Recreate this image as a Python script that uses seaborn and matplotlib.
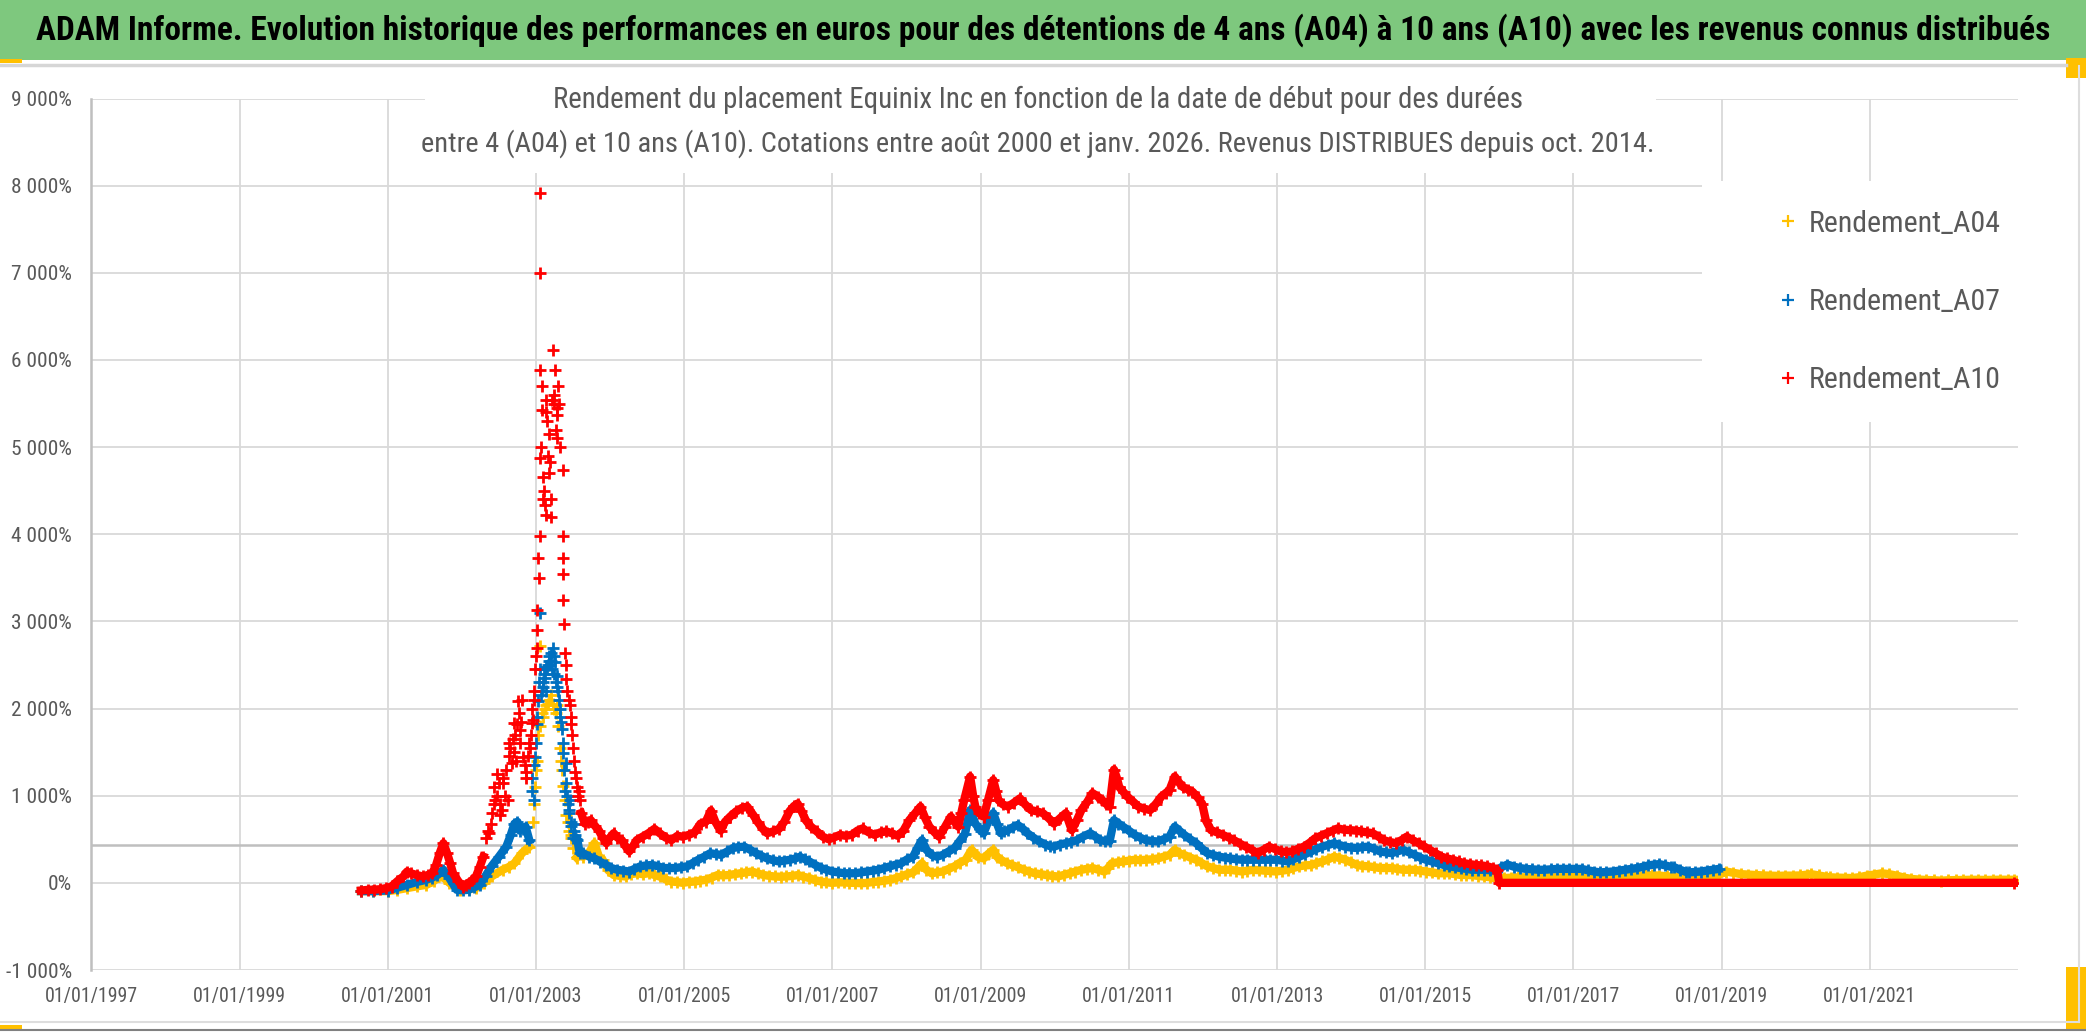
import numpy as np
import pandas as pd
import matplotlib
matplotlib.use('Agg')
import matplotlib.pyplot as plt
import matplotlib.dates as mdates
from matplotlib.ticker import FuncFormatter
from matplotlib.patches import Rectangle
from matplotlib.lines import Line2D
from matplotlib import font_manager
from matplotlib.font_manager import FontProperties
import seaborn as sns

# values: decimal year of start date, return in %
a04_year = [2000.64, 2000.80, 2001.00, 2001.13, 2001.26, 2001.39, 2001.52, 2001.62, 2001.72, 2001.83,
            2001.98, 2002.09, 2002.19, 2002.30, 2002.40, 2002.55, 2002.63, 2002.71, 2002.81, 2002.91,
            2002.97, 2003.01, 2003.06, 2003.10, 2003.14, 2003.18, 2003.21, 2003.25, 2003.28, 2003.32,
            2003.35, 2003.37, 2003.41, 2003.45, 2003.48, 2003.55, 2003.60, 2003.64, 2003.72, 2003.79,
            2003.85, 2003.90, 2003.97, 2004.05, 2004.13, 2004.21, 2004.29, 2004.36, 2004.44, 2004.52,
            2004.60, 2004.67, 2004.75, 2004.83, 2004.90, 2004.98, 2005.06, 2005.14, 2005.21, 2005.29,
            2005.37, 2005.45, 2005.52, 2005.60, 2005.68, 2005.76, 2005.83, 2005.91, 2005.99, 2006.07,
            2006.15, 2006.22, 2006.30, 2006.38, 2006.46, 2006.54, 2006.61, 2006.69, 2006.77, 2006.85,
            2006.92, 2007.00, 2007.08, 2007.16, 2007.23, 2007.31, 2007.39, 2007.47, 2007.55, 2007.62,
            2007.70, 2007.78, 2007.86, 2007.93, 2008.01, 2008.09, 2008.15, 2008.21, 2008.27, 2008.34,
            2008.41, 2008.49, 2008.57, 2008.65, 2008.72, 2008.80, 2008.88, 2008.96, 2009.04, 2009.10,
            2009.17, 2009.22, 2009.27, 2009.35, 2009.42, 2009.50, 2009.58, 2009.65, 2009.73, 2009.81,
            2009.89, 2009.96, 2010.04, 2010.12, 2010.20, 2010.28, 2010.36, 2010.43, 2010.51, 2010.59,
            2010.67, 2010.72, 2010.77, 2010.85, 2010.92, 2011.00, 2011.08, 2011.15, 2011.23, 2011.31,
            2011.39, 2011.47, 2011.55, 2011.62, 2011.68, 2011.75, 2011.83, 2011.91, 2011.98, 2012.06,
            2012.14, 2012.22, 2012.30, 2012.37, 2012.45, 2012.53, 2012.60, 2012.68, 2012.76, 2012.84,
            2012.91, 2012.99, 2013.07, 2013.15, 2013.22, 2013.30, 2013.38, 2013.46, 2013.53, 2013.61,
            2013.69, 2013.77, 2013.84, 2013.92, 2014.00, 2014.08, 2014.15, 2014.23, 2014.31, 2014.39,
            2014.47, 2014.55, 2014.62, 2014.70, 2014.78, 2014.86, 2014.93, 2015.01, 2015.09, 2015.17,
            2015.25, 2015.32, 2015.40, 2015.48, 2015.55, 2015.63, 2015.71, 2015.79, 2015.87, 2015.96,
            2016.06, 2016.16, 2016.26, 2016.36, 2016.46, 2016.56, 2016.66, 2016.76, 2016.86, 2016.96,
            2017.06, 2017.16, 2017.26, 2017.36, 2017.46, 2017.56, 2017.66, 2017.76, 2017.86, 2017.96,
            2018.06, 2018.16, 2018.26, 2018.36, 2018.46, 2018.56, 2018.66, 2018.76, 2018.86, 2018.96,
            2019.06, 2019.16, 2019.26, 2019.36, 2019.46, 2019.56, 2019.66, 2019.76, 2019.86, 2019.96,
            2020.06, 2020.16, 2020.21, 2020.31, 2020.41, 2020.46, 2020.56, 2020.66, 2020.76, 2020.86,
            2020.96, 2021.06, 2021.16, 2021.26, 2021.36, 2021.46, 2021.56, 2021.66, 2021.76, 2021.86,
            2021.96, 2022.06, 2022.16, 2022.26, 2022.36, 2022.46, 2022.56, 2022.66, 2022.76, 2022.86, 2022.95]
a04_pct = [-95, -95, -95, -80, -60, -40, -23, 20, 90, 0,
           -80, -75, -60, 0, 73, 150, 180, 225, 340, 415,
           900, 1400, 2720, 1900, 2040, 2100, 2150, 2000, 2040, 1550,
           1300, 1110, 780, 600, 510, 290, 330, 300, 350, 455,
           300, 265, 150, 90, 80, 73, 100, 110, 100, 110,
           90, 73, 40, 15, 10, 0, 10, 15, 25, 35,
           60, 90, 85, 90, 100, 110, 120, 130, 110, 90,
           80, 73, 70, 73, 80, 90, 70, 55, 30, 15,
           5, 0, 5, 5, 0, 0, -5, 0, 10, 15,
           25, 35, 55, 73, 100, 120, 170, 225, 150, 110,
           120, 130, 160, 190, 230, 265, 380, 300, 280, 330,
           380, 300, 265, 230, 205, 180, 150, 130, 110, 100,
           90, 80, 73, 90, 110, 130, 150, 160, 170, 150,
           130, 170, 225, 235, 245, 255, 265, 260, 265, 270,
           280, 300, 320, 380, 340, 320, 290, 265, 230, 190,
           170, 150, 150, 150, 140, 130, 140, 150, 145, 140,
           135, 130, 140, 150, 170, 190, 200, 205, 225, 245,
           270, 300, 285, 265, 235, 205, 195, 190, 180, 170,
           170, 170, 160, 150, 150, 150, 140, 130, 120, 110,
           110, 110, 100, 90, 90, 88, 80, 73, 65, 50,
           55, 60, 64, 64, 64, 64, 62, 64, 64, 70,
           75, 80, 83, 83, 80, 83, 85, 83, 83, 85,
           88, 83, 75, 70, 64, 60, 62, 64, 64, 90,
           130, 115, 100, 95, 90, 85, 83, 80, 83, 83,
           85, 95, 100, 85, 70, 64, 60, 58, 55, 65,
           83, 95, 110, 100, 83, 60, 45, 38, 33, 30,
           25, 30, 32, 33, 35, 35, 33, 35, 36, 35, 35]
# extra points of the 2003 peak cluster
a04_peak_year = [2002.96, 2002.99, 2003.00, 2003.03, 2003.05, 2003.08, 2003.12, 2003.16, 2003.20,
                 2003.23, 2003.27, 2003.30, 2003.34, 2003.39, 2003.43, 2003.47, 2003.50]
a04_peak_pct = [700, 1100, 1300, 1700, 1800, 1950, 2000, 2050, 2100,
                2050, 1950, 1800, 1400, 950, 700, 550, 400]

a07_year = [2000.64, 2000.80, 2001.00, 2001.13, 2001.26, 2001.39, 2001.52, 2001.60, 2001.67, 2001.75,
            2001.83, 2001.93, 2002.01, 2002.09, 2002.17, 2002.24, 2002.32, 2002.40, 2002.50, 2002.60,
            2002.66, 2002.71, 2002.75, 2002.78, 2002.82, 2002.86, 2002.91, 2002.94, 2002.97, 2002.99,
            2003.01, 2003.03, 2003.05, 2003.06, 2003.08, 2003.10, 2003.14, 2003.18, 2003.21, 2003.23,
            2003.26, 2003.28, 2003.30, 2003.33, 2003.35, 2003.37, 2003.39, 2003.41, 2003.44, 2003.46,
            2003.50, 2003.51, 2003.56, 2003.59, 2003.64, 2003.72, 2003.79, 2003.87, 2003.95, 2004.02,
            2004.10, 2004.18, 2004.26, 2004.33, 2004.41, 2004.49, 2004.57, 2004.65, 2004.72, 2004.80,
            2004.88, 2004.96, 2005.04, 2005.12, 2005.19, 2005.27, 2005.35, 2005.43, 2005.50, 2005.58,
            2005.66, 2005.73, 2005.81, 2005.89, 2005.97, 2006.04, 2006.12, 2006.20, 2006.28, 2006.35,
            2006.43, 2006.50, 2006.56, 2006.63, 2006.69, 2006.77, 2006.85, 2006.92, 2007.00, 2007.08,
            2007.16, 2007.23, 2007.31, 2007.39, 2007.47, 2007.55, 2007.62, 2007.70, 2007.78, 2007.86,
            2007.93, 2008.01, 2008.09, 2008.15, 2008.21, 2008.27, 2008.34, 2008.41, 2008.49, 2008.57,
            2008.65, 2008.72, 2008.79, 2008.86, 2008.93, 2009.00, 2009.04, 2009.10, 2009.17, 2009.22,
            2009.27, 2009.32, 2009.37, 2009.44, 2009.50, 2009.57, 2009.63, 2009.71, 2009.79, 2009.87,
            2009.94, 2009.99, 2010.07, 2010.15, 2010.22, 2010.30, 2010.38, 2010.48, 2010.55, 2010.61,
            2010.68, 2010.74, 2010.80, 2010.86, 2010.92, 2011.00, 2011.08, 2011.15, 2011.23, 2011.31,
            2011.39, 2011.47, 2011.55, 2011.62, 2011.68, 2011.75, 2011.83, 2011.91, 2011.98, 2012.06,
            2012.14, 2012.22, 2012.30, 2012.37, 2012.45, 2012.53, 2012.60, 2012.68, 2012.76, 2012.84,
            2012.91, 2012.99, 2013.07, 2013.15, 2013.22, 2013.30, 2013.38, 2013.46, 2013.53, 2013.61,
            2013.69, 2013.77, 2013.84, 2013.92, 2014.00, 2014.08, 2014.15, 2014.23, 2014.31, 2014.39,
            2014.47, 2014.55, 2014.62, 2014.70, 2014.78, 2014.86, 2014.93, 2015.01, 2015.09, 2015.17,
            2015.25, 2015.32, 2015.40, 2015.48, 2015.55, 2015.63, 2015.71, 2015.79, 2015.87, 2015.96,
            2016.03, 2016.11, 2016.20, 2016.28, 2016.36, 2016.44, 2016.53, 2016.61, 2016.70, 2016.78,
            2016.86, 2016.94, 2017.03, 2017.11, 2017.19, 2017.28, 2017.36, 2017.44, 2017.53, 2017.61,
            2017.69, 2017.78, 2017.86, 2017.94, 2018.01, 2018.09, 2018.16, 2018.24, 2018.31, 2018.36,
            2018.44, 2018.52, 2018.56, 2018.64, 2018.72, 2018.80, 2018.88, 2018.96]
a07_pct = [-95, -95, -88, -55, -23, 10, 35, 60, 90, 150,
           55, -80, -85, -80, -50, -23, 80, 190, 300, 415,
           550, 680, 700, 600, 620, 645, 490, 1050, 950, 1440,
           1820, 2090, 2450, 3100, 2200, 2310, 2480, 2550, 2640, 2690,
           2530, 2370, 2200, 1900, 1770, 1490, 1050, 1370, 840, 950,
           510, 680, 490, 340, 340, 300, 280, 240, 205, 170,
           150, 140, 130, 160, 190, 200, 205, 190, 170, 170,
           170, 180, 190, 230, 265, 300, 340, 330, 320, 360,
           400, 410, 415, 380, 340, 310, 280, 260, 245, 255,
           265, 280, 300, 270, 245, 205, 170, 150, 130, 120,
           110, 110, 110, 120, 130, 140, 150, 170, 190, 210,
           225, 270, 300, 400, 490, 380, 320, 300, 320, 360,
           400, 480, 560, 835, 680, 600, 570, 700, 800, 680,
           570, 590, 605, 640, 665, 620, 570, 520, 475, 440,
           420, 415, 440, 455, 470, 490, 530, 570, 530, 490,
           480, 475, 720, 680, 645, 600, 550, 520, 490, 480,
           475, 500, 530, 645, 600, 550, 500, 455, 400, 340,
           320, 300, 290, 280, 270, 265, 265, 265, 265, 265,
           265, 265, 255, 245, 270, 300, 330, 360, 390, 415,
           435, 455, 435, 415, 405, 400, 410, 415, 390, 360,
           350, 340, 360, 380, 350, 320, 290, 265, 245, 225,
           205, 190, 180, 170, 160, 150, 150, 150, 145, 140,
           180, 210, 185, 170, 160, 155, 150, 150, 155, 160,
           160, 160, 160, 160, 145, 130, 120, 125, 130, 140,
           150, 160, 170, 185, 200, 210, 215, 200, 185, 180,
           150, 125, 120, 125, 130, 140, 150, 160]
a07_peak_year = [2002.95, 2002.98, 2003.00, 2003.02, 2003.04, 2003.07, 2003.09, 2003.11, 2003.12,
                 2003.13, 2003.15, 2003.16, 2003.17, 2003.19, 2003.20, 2003.22, 2003.24, 2003.25,
                 2003.27, 2003.29, 2003.31, 2003.32, 2003.34, 2003.36, 2003.38, 2003.40, 2003.42,
                 2003.43, 2003.45, 2003.47, 2003.48, 2003.52, 2003.53, 2003.54]
a07_peak_pct = [1200, 1350, 1600, 1900, 2300, 2150, 2250, 2400, 2350,
                2200, 2450, 2500, 2600, 2500, 2550, 2450, 2600, 2400,
                2300, 2250, 2100, 2000, 1850, 1600, 1300, 1150, 1000,
                900, 800, 700, 650, 600, 550, 500]

a10_year = [2000.64, 2000.74, 2000.82, 2000.90, 2000.98, 2001.05, 2001.13, 2001.21, 2001.26, 2001.31,
            2001.39, 2001.47, 2001.54, 2001.60, 2001.65, 2001.70, 2001.75, 2001.80, 2001.84, 2001.88,
            2001.95, 2002.01, 2002.05, 2002.09, 2002.14, 2002.19, 2002.24, 2002.29, 2002.33, 2002.37,
            2002.41, 2002.45, 2002.47, 2002.50, 2002.51, 2002.54, 2002.58, 2002.62, 2002.65, 2002.67,
            2002.71, 2002.74, 2002.76, 2002.78, 2002.81, 2002.83, 2002.87, 2002.89, 2002.92, 2002.94,
            2002.96, 2002.99, 2003.01, 2003.02, 2003.03, 2003.05, 2003.06, 2003.06, 2003.06, 2003.06,
            2003.08, 2003.08, 2003.10, 2003.12, 2003.14, 2003.14, 2003.17, 2003.19, 2003.21, 2003.22,
            2003.23, 2003.26, 2003.28, 2003.28, 2003.30, 2003.36, 2003.36, 2003.37, 2003.37, 2003.37,
            2003.38, 2003.39, 2003.41, 2003.46, 2003.48, 2003.50, 2003.53, 2003.56, 2003.59, 2003.61,
            2003.66, 2003.70, 2003.74, 2003.80, 2003.85, 2003.90, 2003.95, 2004.00, 2004.05, 2004.10,
            2004.16, 2004.21, 2004.26, 2004.31, 2004.36, 2004.44, 2004.52, 2004.60, 2004.67, 2004.75,
            2004.83, 2004.91, 2004.98, 2005.06, 2005.14, 2005.22, 2005.29, 2005.36, 2005.42, 2005.49,
            2005.55, 2005.62, 2005.70, 2005.78, 2005.85, 2005.93, 2005.99, 2006.06, 2006.12, 2006.20,
            2006.28, 2006.35, 2006.42, 2006.48, 2006.53, 2006.58, 2006.64, 2006.71, 2006.79, 2006.87,
            2006.95, 2007.02, 2007.10, 2007.18, 2007.26, 2007.34, 2007.41, 2007.49, 2007.57, 2007.65,
            2007.73, 2007.80, 2007.88, 2007.96, 2008.04, 2008.12, 2008.19, 2008.25, 2008.31, 2008.38,
            2008.44, 2008.52, 2008.60, 2008.65, 2008.70, 2008.74, 2008.78, 2008.86, 2008.90, 2008.93,
            2008.98, 2009.04, 2009.10, 2009.17, 2009.21, 2009.24, 2009.30, 2009.37, 2009.45, 2009.53,
            2009.60, 2009.68, 2009.76, 2009.84, 2009.92, 2009.99, 2010.07, 2010.15, 2010.23, 2010.30,
            2010.36, 2010.44, 2010.51, 2010.58, 2010.64, 2010.69, 2010.74, 2010.80, 2010.84, 2010.87,
            2010.93, 2010.98, 2011.06, 2011.13, 2011.21, 2011.29, 2011.37, 2011.44, 2011.50, 2011.55,
            2011.62, 2011.68, 2011.73, 2011.80, 2011.86, 2011.93, 2011.99, 2012.04, 2012.11, 2012.19,
            2012.27, 2012.35, 2012.42, 2012.50, 2012.58, 2012.66, 2012.74, 2012.82, 2012.89, 2012.97,
            2013.05, 2013.12, 2013.20, 2013.28, 2013.36, 2013.44, 2013.51, 2013.59, 2013.67, 2013.75,
            2013.82, 2013.90, 2013.98, 2014.06, 2014.13, 2014.21, 2014.29, 2014.37, 2014.44, 2014.52,
            2014.60, 2014.68, 2014.75, 2014.83, 2014.91, 2014.98, 2015.06, 2015.14, 2015.22, 2015.30,
            2015.37, 2015.45, 2015.53, 2015.60, 2015.68, 2015.76, 2015.84, 2015.92, 2015.97, 2016.00,
            2022.95]
a10_pct = [-88, -80, -78, -73, -60, -42, 20, 73, 130, 110,
           90, 73, 90, 110, 200, 340, 455, 340, 230, 110,
           20, -42, -20, 0, 30, 73, 180, 300, 510, 570,
           800, 950, 1250, 1140, 780, 840, 1000, 950, 1550, 1380,
           1830, 1820, 2090, 1600, 2100, 1440, 1270, 1450, 1550, 1830,
           1870, 2450, 2690, 3130, 3730, 3980, 4880, 5880, 7000, 7910,
           5700, 5430, 4660, 4330, 4220, 5540, 5150, 4830, 4200, 5540,
           6110, 5880, 5370, 5100, 5700, 3730, 3240, 4740, 3980, 3540,
           2970, 2640, 2340, 2040, 1820, 1550, 1270, 1100, 950, 800,
           680, 700, 720, 650, 600, 520, 455, 520, 570, 520,
           490, 420, 360, 420, 490, 530, 570, 620, 570, 520,
           490, 540, 530, 550, 580, 680, 700, 830, 700, 600,
           700, 760, 820, 860, 875, 780, 700, 620, 570, 590,
           620, 700, 820, 880, 910, 830, 720, 645, 590, 530,
           500, 520, 550, 540, 550, 600, 625, 580, 550, 580,
           590, 570, 540, 600, 720, 800, 875, 750, 645, 580,
           530, 640, 760, 700, 645, 800, 950, 1220, 1000, 875,
           800, 760, 950, 1180, 1050, 950, 900, 875, 920, 970,
           900, 835, 820, 800, 740, 680, 740, 800, 605, 720,
           835, 930, 1030, 990, 950, 910, 875, 1300, 1200, 1100,
           1040, 990, 930, 875, 850, 835, 910, 990, 1030, 1065,
           1220, 1150, 1100, 1070, 1045, 980, 910, 720, 605, 580,
           550, 520, 490, 450, 415, 380, 340, 380, 415, 390,
           360, 355, 360, 390, 415, 460, 510, 540, 570, 600,
           625, 610, 605, 600, 590, 580, 570, 530, 490, 470,
           455, 490, 530, 490, 455, 420, 380, 340, 300, 280,
           265, 245, 225, 215, 205, 200, 190, 170, 150, 0,
           0]
a10_peak_year = [2002.35, 2002.39, 2002.43, 2002.44, 2002.48, 2002.52, 2002.55, 2002.56, 2002.60,
                 2002.63, 2002.64, 2002.69, 2002.70, 2002.72, 2002.73, 2002.77, 2002.79, 2002.80,
                 2002.85, 2002.86, 2002.90, 2002.93, 2002.95, 2002.97, 2002.98, 2003.00, 2003.02,
                 2003.04, 2003.07, 2003.09, 2003.11, 2003.13, 2003.15, 2003.16, 2003.18, 2003.20,
                 2003.24, 2003.25, 2003.27, 2003.29, 2003.31, 2003.33, 2003.40, 2003.42, 2003.44,
                 2003.47, 2003.49, 2003.51, 2003.54, 2003.57, 2003.58]
a10_peak_pct = [600, 680, 900, 1100, 1000, 900, 1150, 1200, 1300,
                1450, 1600, 1650, 1500, 1700, 1400, 1950, 1750, 1850,
                1350, 1200, 1600, 1700, 2000, 2200, 2100, 2600, 2900,
                3500, 5000, 4400, 4500, 5400, 5300, 4900, 4700, 4400,
                5600, 5500, 5200, 5450, 5500, 5000, 2500, 2200, 2100,
                1900, 1700, 1400, 1200, 1000, 1050]

series_names = ['Rendement_A04', 'Rendement_A07', 'Rendement_A10']
series_colors = ['#FFC000', '#0070C0', '#FF0000']
# start-date windows where the daily points spread apart (no dense band)
sparse_windows = [(2002.95, 2003.52), (2002.92, 2003.55), (2002.31, 2003.60)]
tick_years = [1997, 1999, 2001, 2003, 2005, 2007, 2009, 2011, 2013, 2015, 2017, 2019, 2021]
y_ticks = [-1000, 0, 1000, 2000, 3000, 4000, 5000, 6000, 7000, 8000, 9000]
axis_cross = 430

banner_txt = ("ADAM Informe. Evolution historique des performances en euros pour des détentions "
              "de 4 ans (A04) à 10 ans (A10) avec les revenus connus distribués")
title_l1 = "Rendement du placement Equinix Inc en fonction de la date de début pour des durées"
title_l2 = ("entre 4 (A04) et 10 ans (A10). Cotations entre août 2000 et janv. 2026. "
            "Revenus DISTRIBUES depuis oct. 2014.")


def year_to_date(y):
    base = pd.Timestamp(year=int(y), month=1, day=1)
    return base + pd.Timedelta(days=(y - int(y)) * 365.25)


frames = []
for name, yrs, vals, pyrs, pvals, win in zip(
        series_names, [a04_year, a07_year, a10_year], [a04_pct, a07_pct, a10_pct],
        [a04_peak_year, a07_peak_year, a10_peak_year], [a04_peak_pct, a07_peak_pct, a10_peak_pct],
        sparse_windows):
    d = pd.DataFrame({'serie': name, 'year': list(yrs) + list(pyrs), 'pct': list(vals) + list(pvals)})
    d = d.sort_values('year', kind='stable')
    d['date'] = [year_to_date(y) for y in d['year']]
    d['seg'] = np.where(d['year'] < win[0], 0, np.where(d['year'] > win[1], 1, -1))
    frames.append(d)
df = pd.concat(frames, ignore_index=True)

W, H = 2086, 1032
fig = plt.figure(figsize=(W / 100, H / 100), dpi=100)
fig.patch.set_facecolor('white')
rend = fig.canvas.get_renderer()

# pick the narrowest installed sans font (the original uses Calibri)
wmap = {'normal': 400, 'regular': 400, 'book': 400, 'medium': 500, 'semibold': 600,
        'demibold': 600, 'bold': 700, 'heavy': 800, 'black': 900, 'light': 300}
cands = ['Liberation Sans Narrow', 'Roboto Condensed', 'DejaVu Sans', 'Liberation Sans', 'Roboto',
         'Open Sans', 'Lato', 'Noto Sans', 'Inter', 'Carlito']


def wnum(w):
    return w if isinstance(w, int) else wmap.get(str(w).lower(), 400)


def narrowest(target_w):
    best, best_w = None, None
    for f in font_manager.fontManager.ttflist:
        if f.name not in cands or f.style != 'normal' or wnum(f.weight) != target_w:
            continue
        fp = FontProperties(fname=f.fname, size=10)
        t = fig.text(0, 0, 'Rendement du placement Equinix', fontproperties=fp)
        w = t.get_window_extent(rend).width
        t.remove()
        if best_w is None or w < best_w:
            best, best_w = f.fname, w
    return FontProperties(fname=best) if best else FontProperties(family='DejaVu Sans')


fp_reg = narrowest(400)
fp_bold = narrowest(700)


def size_for(text, width_px, fp):
    t = fig.text(0, 0, text, fontproperties=fp, fontsize=10)
    w = t.get_window_extent(rend).width
    t.remove()
    return 10 * width_px / w


# green banner
fig.add_artist(Rectangle((0, 1 - 60 / H), 1, 60 / H, transform=fig.transFigure,
                         facecolor='#7EC87E', edgecolor='none'))
fig.text(0.5, 1 - 30 / H, banner_txt, ha='center', va='center', fontproperties=fp_bold,
         fontsize=size_for(banner_txt, 2011, fp_bold), color='black')
fig.add_artist(Line2D([0, 2066 / W], [1 - 65 / H] * 2, color='#D6D6D6', lw=2.5))
fig.add_artist(Line2D([2079 / W] * 2, [1 - 66 / H, 1 - 1022 / H], color='#DDDDDD', lw=1.5))
fig.add_artist(Line2D([0, 2079 / W], [1 - 1022 / H] * 2, color='#DDDDDD', lw=1.5))
fig.add_artist(Line2D([0, 1], [1 - 1030 / H] * 2, color='#808080', lw=1.5))
for (x0, y0, w, h) in [(0, 59, 22, 4), (2066, 58, 20, 20), (2066, 967, 20, 62), (0, 1025, 22, 5)]:
    fig.add_artist(Rectangle((x0 / W, 1 - (y0 + h) / H), w / W, h / H, transform=fig.transFigure,
                             facecolor='#FFC000', edgecolor='none'))

ax = fig.add_axes([91.4 / W, 1 - 970 / H, (2018 - 91.4) / W, (970 - 98.5) / H])
ax.set_facecolor('white')

for i, (name, col) in enumerate(zip(series_names, series_colors)):
    sub = df[df['serie'] == name]
    band = sub[sub['seg'] >= 0]
    sns.lineplot(data=band, x='date', y='pct', units='seg', estimator=None, color=col,
                 linewidth=6, ax=ax, zorder=3 + i, legend=False)
    sns.scatterplot(data=sub, x='date', y='pct', marker='+', s=75, linewidth=2, color=col,
                    ax=ax, zorder=3 + i, legend=False)

ax.axhline(axis_cross, color='#BFBFBF', lw=1.8, zorder=1)
ax.set_xlim(pd.Timestamp('1997-01-01'), pd.Timestamp('2023-01-01'))
ax.set_ylim(-1000, 9000)
ax.set_xticks([pd.Timestamp(f'{y}-01-01') for y in tick_years])
ax.xaxis.set_major_formatter(mdates.DateFormatter('%d/%m/%Y'))
ax.set_yticks(y_ticks)
ax.yaxis.set_major_formatter(FuncFormatter(lambda v, _: f'{int(v):,}'.replace(',', ' ') + '%'))
ax.set_xlabel('')
ax.set_ylabel('')
ax.grid(True, color='#D9D9D9', lw=1.3)
ax.set_axisbelow(True)
for s in ['top', 'right', 'bottom']:
    ax.spines[s].set_visible(False)
ax.spines['left'].set_color('#BFBFBF')
ax.spines['left'].set_linewidth(1.8)
ax.tick_params(axis='both', length=0, colors='#595959')
ax.tick_params(axis='x', pad=12)
ax.tick_params(axis='y', pad=14)
xs = size_for('01/01/1997', 93, fp_reg)
ys = size_for('8 000%', 60, fp_reg)
for lbl in ax.get_xticklabels():
    lbl.set_fontproperties(fp_reg)
    lbl.set_fontsize(xs)
for lbl in ax.get_yticklabels():
    lbl.set_fontproperties(fp_reg)
    lbl.set_fontsize(ys)

# white boxes behind title and legend
ax.add_patch(Rectangle((425 / W, 1 - 173 / H), (1656 - 425) / W, (173 - 75) / H,
                       transform=fig.transFigure, facecolor='white', edgecolor='none', zorder=1.5))
ax.add_patch(Rectangle((1702 / W, 1 - 422 / H), (2018 - 1702) / W, (422 - 181) / H,
                       transform=fig.transFigure, facecolor='white', edgecolor='none', zorder=1.5))

fig.text(1038 / W, 1 - 100 / H, title_l1, ha='center', va='center', fontproperties=fp_reg,
         fontsize=size_for(title_l1, 963, fp_reg), color='#595959')
fig.text(1038 / W, 1 - 144 / H, title_l2, ha='center', va='center', fontproperties=fp_reg,
         fontsize=size_for(title_l2, 1219, fp_reg), color='#595959')

leg_size = size_for('Rendement_A04', 190, fp_reg)
handles = [Line2D([], [], marker='+', linestyle='', color=c, markersize=8, mew=1.6)
           for c in series_colors]
leg_fp = fp_reg.copy()
leg_fp.set_size(leg_size)
leg = ax.legend(handles, series_names, loc='center left', bbox_to_anchor=(1752 / W, 1 - 302 / H),
                bbox_transform=fig.transFigure, frameon=False, handlelength=0.6,
                handletextpad=0.4, labelspacing=80 / (leg_size * 1.389) - 1.0, prop=leg_fp)
for t in leg.get_texts():
    t.set_color('#595959')
leg.set_zorder(10)

fig.savefig('out.png', dpi=100)
